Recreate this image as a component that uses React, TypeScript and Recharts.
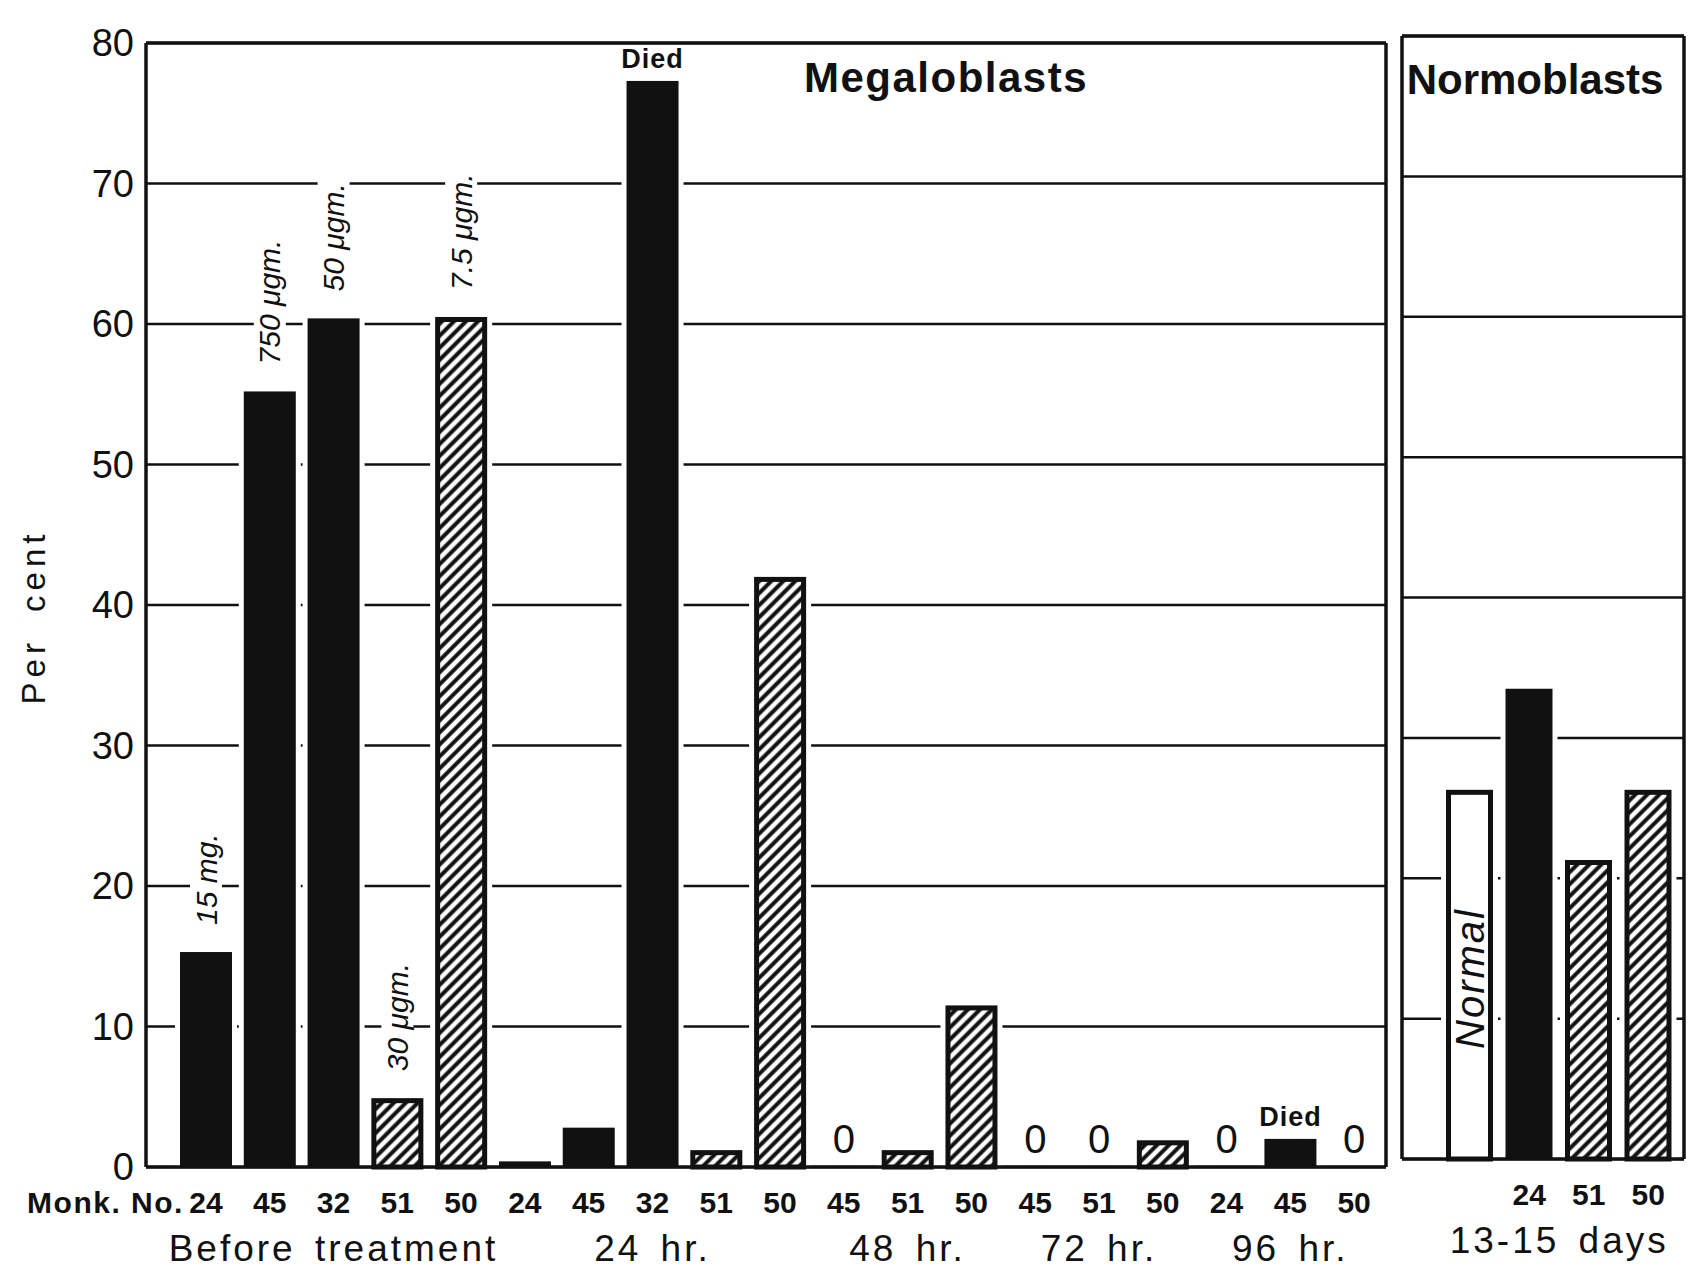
import React from 'react';
import { BarChart, Bar, XAxis, YAxis, CartesianGrid, LabelList } from 'recharts';

// Megaloblasts panel: one bar per monkey per time point
const megaMonks = ['24', '45', '32', '51', '50', '24', '45', '32', '51', '50', '45', '51', '50', '45', '51', '50', '24', '45', '50'];
const megaValues = [15.3, 55.2, 60.4, 4.9, 60.5, 0.4, 2.8, 77.3, 1.2, 42, 0, 1.2, 11.5, 0, 0, 1.9, 0, 2, 0];
const megaGroupNames = ['Before treatment', '24 hr.', '48 hr.', '72 hr.', '96 hr.'];
const megaGroupSizes = [5, 5, 3, 3, 3];
const megaNotes = ['15 mg.', '750 μgm.', '50 μgm.', '30 μgm.', '7.5 μgm.', '', '', 'Died', '', '', '', '', '', '', '', '', '', 'Died', ''];

// Normoblasts panel
const normoMonks = ['Normal', '24', '51', '50'];
const normoValues = [26.3, 33.5, 21.3, 26.3];
const normoGroupName = '13-15 days';

const hatchedMonks = ['51', '50'];
const yTicks = [0, 10, 20, 30, 40, 50, 60, 70, 80];

const INK = '#111';
const FONT = '"Liberation Sans", Arial, sans-serif';

const kindOf = (m: string) => (m === 'Normal' ? 'open' : hatchedMonks.includes(m) ? 'hatched' : 'solid');

const megaGroupAt: Record<number, string> = {};
let start = 0;
megaGroupSizes.forEach((n, i) => {
  megaGroupAt[start + Math.floor(n / 2)] = megaGroupNames[i];
  start += n;
});

const megaData = megaMonks.map((m, i) => ({
  key: `m${i}`,
  monk: m,
  value: megaValues[i],
  kind: kindOf(m),
  note: megaNotes[i],
  group: megaGroupAt[i] || '',
}));

const normoData = normoMonks.map((m, i) => ({
  key: `n${i}`,
  monk: m,
  value: normoValues[i],
  kind: kindOf(m),
  note: '',
  group: i === 1 ? normoGroupName : '',
}));

type Row = (typeof megaData)[number];

const makeShape = (patternId: string) => (p: any) => {
  const { x, y, width, height, payload } = p;
  if (!height || height <= 0) return <g />;
  const halo = 5; // white edge that breaks the grid lines around each bar
  const kind = payload?.kind;
  return (
    <g>
      <rect x={x - halo} y={y - halo} width={width + 2 * halo} height={height + halo} fill="#fff" />
      {kind === 'solid' ? (
        <rect x={x} y={y} width={width} height={height} fill={INK} />
      ) : (
        <rect
          x={x + 2.5}
          y={y + 2.5}
          width={width - 5}
          height={Math.max(height - 2.5, 0)}
          fill={kind === 'hatched' ? `url(#${patternId})` : '#fff'}
          stroke={INK}
          strokeWidth={5}
        />
      )}
    </g>
  );
};

const Hatch = ({ id }: { id: string }) => (
  <defs>
    <pattern id={id} patternUnits="userSpaceOnUse" width={8.5} height={8.5} patternTransform="rotate(45)">
      <rect width={8.5} height={8.5} fill="#fff" />
      <line x1={4.25} y1={0} x2={4.25} y2={8.5} stroke={INK} strokeWidth={4} />
    </pattern>
  </defs>
);

const renderNote = (rows: Row[]) => (p: any) => {
  const { x, y, width, height, value } = p;
  const row = rows.find((r) => r.key === value);
  if (!row) return null;
  const cx = x + width / 2;
  const base = y + height;
  if (row.value === 0) {
    return (
      <text x={cx} y={base - 28} textAnchor="middle" dominantBaseline="central" fontSize={40} fill={INK} fontFamily={FONT}>
        0
      </text>
    );
  }
  if (row.note === 'Died') {
    return (
      <text x={cx} y={y - 13} textAnchor="middle" fontSize={27} fontWeight="bold" letterSpacing={1} fill={INK} fontFamily={FONT}>
        Died
      </text>
    );
  }
  if (row.note) {
    // rotated dose note with a white backing so the grid line breaks around it
    const w = row.note.length * 0.55 * 30;
    return (
      <g transform={`translate(${cx},${y - 27}) rotate(-90)`}>
        <rect x={-6} y={-16} width={w + 12} height={32} fill="#fff" />
        <text x={0} y={0} dominantBaseline="central" fontSize={30} fontStyle="italic" fill={INK} fontFamily={FONT}>
          {row.note}
        </text>
      </g>
    );
  }
  if (row.kind === 'open') {
    return (
      <g transform={`translate(${cx},${base - 110}) rotate(-90)`}>
        <text x={0} y={0} dominantBaseline="central" fontSize={40} fontStyle="italic" letterSpacing={2} fill={INK} fontFamily={FONT}>
          {row.monk}
        </text>
      </g>
    );
  }
  return null;
};

const MonkTick = (props: any) => {
  const { x, y, index, rows, monkNo, groupShift = 0 } = props;
  const row: Row | undefined = rows[index];
  if (!row) return null;
  return (
    <g fill={INK} fontFamily={FONT}>
      {monkNo && index === 0 && (
        <text x={x - 22} y={y + 46} textAnchor="end" fontSize={30} fontWeight="bold" letterSpacing={1.5}>
          Monk. No.
        </text>
      )}
      {row.kind !== 'open' && (
        <text x={x} y={y + 46} textAnchor="middle" fontSize={30} fontWeight="bold">
          {row.monk}
        </text>
      )}
      {row.group && (
        <text x={x + groupShift} y={y + 94} textAnchor="middle" fontSize={37} letterSpacing={3} wordSpacing={6}>
          {row.group}
        </text>
      )}
    </g>
  );
};

const NoTick = () => <g />;

const frameLine = { stroke: INK, strokeWidth: 3.5 };

export default function App() {
  return (
    <div style={{ position: 'absolute', left: 0, top: 0, width: 1698, height: 1271, background: '#fff', overflow: 'hidden' }}>
      <div style={{ position: 'absolute', left: 0, top: 0 }}>
        <BarChart width={1400} height={1271} data={megaData} margin={{ top: 42, right: 12, bottom: 0, left: 0 }}>
          <Hatch id="hatchL" />
          <CartesianGrid vertical={false} stroke={INK} strokeWidth={2.5} />
          <XAxis
            dataKey="key"
            height={104}
            interval={0}
            padding={{ left: 28, right: 0 }}
            axisLine={frameLine}
            tickLine={false}
            tickSize={0}
            tickMargin={0}
            tick={<MonkTick rows={megaData} monkNo />}
          />
          <XAxis xAxisId="top" dataKey="key" orientation="top" height={1} axisLine={frameLine} tick={false} tickLine={false} />
          <YAxis
            domain={[0, 80]}
            ticks={yTicks}
            width={146}
            axisLine={frameLine}
            tickLine={false}
            tickSize={0}
            tickMargin={12}
            tick={{ fontSize: 38, fill: INK, fontFamily: FONT }}
          />
          <YAxis yAxisId="frame" orientation="right" domain={[0, 80]} width={2} axisLine={frameLine} tick={false} tickLine={false} />
          <Bar dataKey="value" barSize={52} shape={makeShape('hatchL')} isAnimationActive={false}>
            <LabelList dataKey="key" content={renderNote(megaData)} />
          </Bar>
        </BarChart>
      </div>
      <div style={{ position: 'absolute', left: 1390, top: 0 }}>
        <BarChart width={308} height={1271} data={normoData} margin={{ top: 35, right: 13, bottom: 0, left: 11 }}>
          <Hatch id="hatchR" />
          <CartesianGrid vertical={false} stroke={INK} strokeWidth={2.5} />
          <XAxis
            dataKey="key"
            height={112}
            interval={0}
            padding={{ left: 38, right: 6 }}
            axisLine={frameLine}
            tickLine={false}
            tickSize={0}
            tickMargin={0}
            tick={<MonkTick rows={normoData} groupShift={30} />}
          />
          <XAxis xAxisId="top" dataKey="key" orientation="top" height={1} axisLine={frameLine} tick={false} tickLine={false} />
          <YAxis domain={[0, 80]} ticks={yTicks} width={1} axisLine={frameLine} tick={<NoTick />} tickLine={false} />
          <YAxis yAxisId="frame" orientation="right" domain={[0, 80]} width={1} axisLine={frameLine} tick={false} tickLine={false} />
          <Bar dataKey="value" barSize={47} shape={makeShape('hatchR')} isAnimationActive={false}>
            <LabelList dataKey="key" content={renderNote(normoData)} />
          </Bar>
        </BarChart>
      </div>
      <svg style={{ position: 'absolute', left: 0, top: 0 }} width={1698} height={1271}>
        <g fill={INK} fontFamily={FONT}>
          <text x={946} y={92} textAnchor="middle" fontSize={42} fontWeight="bold" letterSpacing={1.5}>
            Megaloblasts
          </text>
          <text x={1535} y={94} textAnchor="middle" fontSize={42} fontWeight="bold">
            Normoblasts
          </text>
          <text
            x={33}
            y={617}
            textAnchor="middle"
            dominantBaseline="central"
            fontSize={33}
            letterSpacing={5}
            wordSpacing={12}
            transform="rotate(-90, 33, 617)"
          >
            Per cent
          </text>
        </g>
      </svg>
    </div>
  );
}
